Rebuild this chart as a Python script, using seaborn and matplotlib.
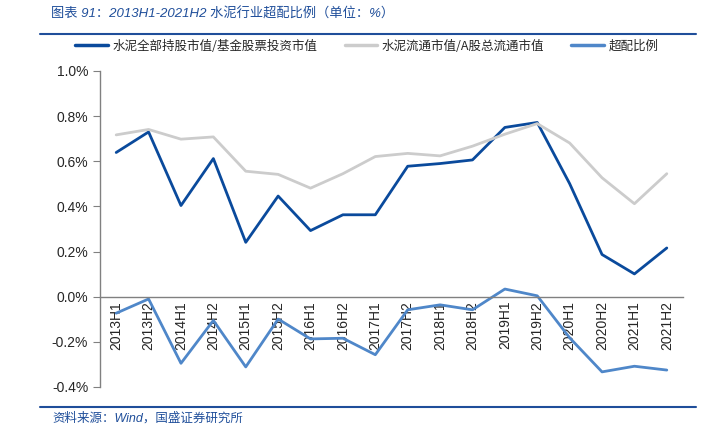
import pandas as pd
import numpy as np
import matplotlib.pyplot as plt
import seaborn as sns

# half-year periods
periods = ['2013H1', '2013H2', '2014H1', '2014H2', '2015H1', '2015H2',
           '2016H1', '2016H2', '2017H1', '2017H2', '2018H1', '2018H2',
           '2019H1', '2019H2', '2020H1', '2020H2', '2021H1', '2021H2']

# values in %
fund_share = [0.639, 0.730, 0.404, 0.612, 0.241, 0.446, 0.293, 0.363, 0.363,
              0.578, 0.590, 0.606, 0.750, 0.772, 0.501, 0.187, 0.101, 0.216]
market_share = [0.717, 0.741, 0.698, 0.708, 0.556, 0.542, 0.481, 0.545, 0.621,
                0.635, 0.624, 0.667, 0.720, 0.767, 0.681, 0.527, 0.412, 0.545]
overweight = [-0.073, -0.010, -0.295, -0.105, -0.311, -0.099, -0.187, -0.184, -0.257,
              -0.058, -0.036, -0.058, 0.034, 0.004, -0.182, -0.333, -0.308, -0.325]

series_names = ['水泥全部持股市值/基金股票投资市值', '水泥流通市值/A股总流通市值', '超配比例']
colors = ['#0A4A9C', '#CCCCCC', '#4F87C9']

df = pd.DataFrame({
    'x': list(range(len(periods))) * 3,
    'value': fund_share + market_share + overweight,
    'series': [series_names[0]] * len(periods) + [series_names[1]] * len(periods)
              + [series_names[2]] * len(periods),
})

sns.set_style('white')
plt.rcParams['font.family'] = ['Liberation Sans', 'Noto Sans CJK SC', 'DejaVu Sans']
plt.rcParams['axes.unicode_minus'] = False

fig = plt.figure(figsize=(7.11, 4.34), dpi=100)
ax = fig.add_axes([100 / 711, 1 - 387 / 434, 583 / 711, 316 / 434])

sns.lineplot(data=df, x='x', y='value', hue='series', hue_order=series_names,
             palette=colors, linewidth=2.0, ax=ax, legend=False)

ax.set_xlim(-0.5, len(periods) - 0.5)
ax.set_ylim(-0.4, 1.0)
yt = np.arange(-0.4, 1.01, 0.2)
ax.set_yticks(yt)
ax.set_yticklabels([f'{v:.1f}%' for v in yt], fontsize=10)
ax.set_xlabel('')
ax.set_ylabel('')

# x axis sits on zero, ticks between categories
ax.spines['bottom'].set_position(('data', 0))
for s in ['top', 'right']:
    ax.spines[s].set_visible(False)
for s in ['left', 'bottom']:
    ax.spines[s].set_color('#808080')
    ax.spines[s].set_linewidth(1.0)
ax.set_xticks(np.arange(-0.5, len(periods), 1.0))
ax.set_xticklabels([])
ax.set_xticks(range(len(periods)), minor=True)
ax.set_xticklabels(periods, minor=True, rotation=90, fontsize=10)
ax.tick_params(axis='x', which='major', direction='out', length=5, color='#808080')
ax.tick_params(axis='x', which='minor', length=0, pad=3)
ax.tick_params(axis='y', direction='out', length=5, color='#808080', left=True)

# legend
handles = [plt.Line2D([], [], color=c, linewidth=2.5) for c in colors]
fig.legend(handles, series_names, loc='center left', bbox_to_anchor=(64 / 711, 1 - 46 / 434),
           ncol=3, frameon=False, handlelength=2.6, columnspacing=2.2,
           handletextpad=0.35, prop={'family': ['Noto Sans CJK SC'], 'size': 9})

# title and source
title_color = '#1F4E9A'
fig.text(51 / 711, 1 - 14 / 434, '图表 91：2013H1-2021H2 水泥行业超配比例（单位：%）',
         color=title_color, fontsize=9.5, style='italic', va='center')
fig.add_artist(plt.Line2D([40 / 711, 696 / 711], [1 - 34 / 434, 1 - 34 / 434],
                          color=title_color, linewidth=1.5))
fig.add_artist(plt.Line2D([40 / 711, 696 / 711], [1 - 407 / 434, 1 - 407 / 434],
                          color=title_color, linewidth=1.5))
fig.text(52 / 711, 1 - 418 / 434, '资料来源：Wind，国盛证券研究所',
         color=title_color, fontsize=9, style='italic', va='center')

fig.savefig('out.png', dpi=100)
